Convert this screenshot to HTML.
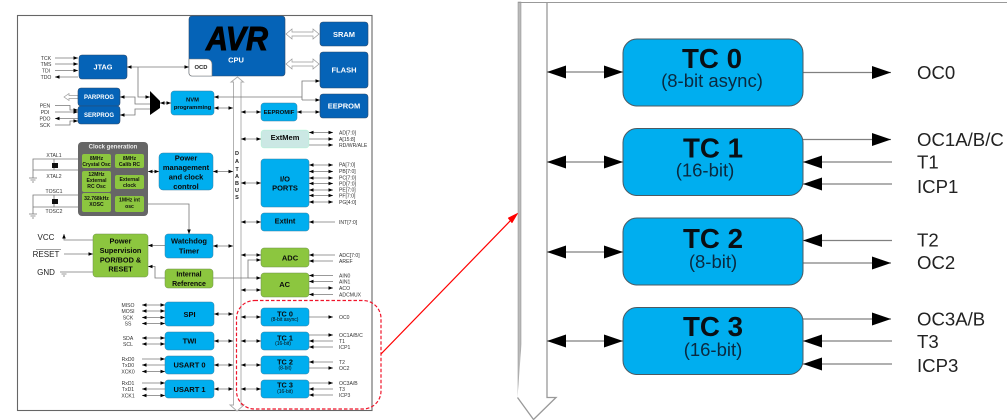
<!DOCTYPE html>
<html><head><meta charset="utf-8"><style>
html,body{margin:0;padding:0;background:#fff;width:1007px;height:420px;overflow:hidden}
svg{display:block;font-family:"Liberation Sans",sans-serif}
.l{filter:blur(.35px)}
.r{filter:blur(.3px)}
.w{stroke:#777;stroke-width:.8;fill:none}
.s{marker-end:url(#a)}
.d{marker-start:url(#a);marker-end:url(#a)}
.b{marker-start:url(#a)}
.lb{font-size:5.100px;fill:#333}
.m{text-anchor:middle}
.t{font-weight:bold;text-anchor:middle}
.big{stroke:#808080;stroke-width:1.3;fill:none}
</style></head><body>
<svg width="1007" height="420" viewBox="0 0 1007 420" xmlns="http://www.w3.org/2000/svg">
<defs>
<marker id="a" viewBox="0 0 4.500 3.600" markerUnits="userSpaceOnUse" markerWidth="4.500" markerHeight="3.600" refX="4.500" refY="1.800" orient="auto-start-reverse"><path d="M0 0L4.500 1.800L0 3.600z" fill="#000"/></marker>
<marker id="A" viewBox="0 0 19 13" markerUnits="userSpaceOnUse" markerWidth="19" markerHeight="13" refX="19" refY="6.500" orient="auto-start-reverse"><path d="M0 0L19 6.500L0 13z" fill="#000"/></marker>
</defs>
<g class="l">
<rect x="17.500" y="15.500" width="354.500" height="395" fill="#fff" stroke="#666" stroke-width="1.100"/>

<!-- data bus -->
<path d="M233.500 82H231L237.500 77L243.500 82H241V405H244L237 411L230 405H233.500Z" fill="#fff" stroke="#aaa" stroke-width=".9"/>
<g font-size="5.500" font-weight="bold" fill="#222" text-anchor="middle">
<text x="237" y="155">D</text><text x="237" y="163">A</text><text x="237" y="171">T</text><text x="237" y="178">A</text><text x="237" y="185">B</text><text x="237" y="192">U</text><text x="237" y="199">S</text></g>

<!-- hollow arrows -->
<g fill="#fff" stroke="#999" stroke-width=".7">
<path d="M286 34L292 29V32H313V29L319 34L313 39V36H292V39Z"/>
<path d="M286 64L292 59V62H313V59L319 64L313 69V66H292V69Z"/>
<path d="M64 97L69 93.500V95.500H78V98.500H69V100.500Z"/>
</g>

<!-- connectors -->
<g class="w">
<path class="d" d="M127 67H189"/>
<path class="s" d="M138 67V97H150"/>
<path class="b" d="M120 97H135V104H150"/>
<path class="b" d="M120 115H135V109H150"/>
<path class="d" d="M160 103H171"/>
<path class="b" d="M214 97H302"/>
<path class="s" d="M302 100V81H320"/>
<path class="s" d="M302 100H320"/>
<path class="d" d="M214 108H233"/>
<path class="d" d="M241 112H261"/>
<path class="d" d="M297 112H320"/>
<path class="d" d="M241 139H261"/>
<path class="d" d="M241 183H261"/>
<path class="d" d="M213 171.500H233"/>
<path class="d" d="M148 171.500H159"/>
<path class="d" d="M213 246H233"/>
<path class="d" d="M241 222H261"/>
<path class="d" d="M241 255H261"/>
<path class="s" d="M213 278H248V260H261"/>
<path class="s" d="M248 278H261"/>
<path class="d" d="M241 290H261"/>
<path class="s" d="M148 204H189V234"/>
<path class="s" d="M165 245.500H148"/>
<path class="s" d="M165 278H155V266.500H148"/>
<path class="s" d="M93 240H64V234"/>
<path class="s" d="M64 254H93"/>
<path d="M64 272H93M60 272H68M61.500 274H66.500M63 276H65"/>
<!-- clock wires -->
<path d="M82 159H33V178M82 170H33M54 159V163M54 168V170"/>
<path d="M82 195H33V214M82 207H33M54 195V199M54 204V207"/>
<path d="M29 178H37M30.500 180H35.500M32 182H34"/>
<path d="M29 214H37M30.500 216H35.500M32 218H34"/>
<!-- JTAG -->
<path class="s" d="M55 58H78"/><path class="s" d="M55 64H78"/><path class="s" d="M55 70.500H78"/><path class="s" d="M78 77H55"/>
<!-- PROG -->
<path class="s" d="M55 105.500H70V110H78"/><path class="s" d="M55 112H78"/><path class="s" d="M78 118.500H55"/><path class="s" d="M55 125H70V121H78"/>
<!-- ExtMem signals -->
<path class="d" d="M309 132.500H333"/><path class="s" d="M309 139H333"/><path class="s" d="M309 145H333"/>
<!-- IO -->
<path class="d" d="M309 165H333"/><path class="d" d="M309 171.500H333"/><path class="d" d="M309 178H333"/><path class="d" d="M309 183.500H333"/><path class="d" d="M309 190H333"/><path class="d" d="M309 195.500H333"/><path class="d" d="M309 202H333"/>
<path class="s" d="M335 222H309"/>
<path class="s" d="M335 255H309"/><path class="s" d="M333 261H309"/>
<path class="s" d="M333 275.500H309"/><path class="s" d="M333 281.500H309"/><path class="s" d="M309 288H333"/><path class="s" d="M333 294.500H309"/>
<!-- SPI etc left -->
<path class="d" d="M142 305H165"/><path class="d" d="M142 311H165"/><path class="d" d="M142 317.500H165"/><path class="d" d="M142 323.500H165"/>
<path class="d" d="M142 338H165"/><path class="d" d="M142 344H165"/>
<path class="s" d="M142 359H165"/><path class="s" d="M165 365H142"/><path class="d" d="M142 371.500H165"/>
<path class="s" d="M142 383H165"/><path class="s" d="M165 389H142"/><path class="d" d="M142 395.500H165"/>
<!-- bus doubles -->
<path class="d" d="M214 314H233"/><path class="d" d="M214 341H233"/><path class="d" d="M214 365H233"/><path class="d" d="M214 389H233"/>
<path class="d" d="M241 317H261"/><path class="d" d="M241 341H261"/><path class="d" d="M241 365H261"/><path class="d" d="M241 389H261"/>
<!-- TC right -->
<path class="s" d="M309 317H333"/>
<path class="s" d="M309 335H333"/><path class="s" d="M333 341H309"/><path class="s" d="M333 347H309"/>
<path class="s" d="M333 362H309"/><path class="s" d="M309 368H333"/>
<path class="s" d="M309 383H333"/><path class="s" d="M333 389H309"/><path class="s" d="M333 395H309"/>
</g>

<!-- caps and mux -->
<rect x="52" y="163" width="6" height="5" fill="#111"/><rect x="52" y="199" width="6" height="5" fill="#111"/>
<path d="M150 91L160 101V108L150 115Z" fill="#000"/>

<!-- CPU -->
<g stroke="#2a4a6e" stroke-width=".6">
<rect x="189" y="16" width="96" height="60" rx="3" fill="#0563b7"/>
<rect x="79" y="55" width="48" height="24" rx="3" fill="#0563b7"/>
<rect x="78" y="88" width="42" height="18" rx="3" fill="#0563b7"/>
<rect x="78" y="106" width="42" height="18" rx="3" fill="#0563b7"/>
<rect x="320" y="22" width="48" height="24" rx="3" fill="#0563b7"/>
<rect x="320" y="52" width="48" height="36" rx="3" fill="#0563b7"/>
<rect x="320" y="94" width="48" height="24" rx="3" fill="#0563b7"/>
</g>
<path d="M189 59H207a5 5 0 0 1 5 5V76H192a3 3 0 0 1-3-3Z" fill="#fff" stroke="#777" stroke-width=".6"/>
<text x="206" y="50" font-size="33" font-weight="bold" font-style="italic" textLength="62" lengthAdjust="spacingAndGlyphs" fill="#000" stroke="#000" stroke-width=".9">AVR</text>
<text x="236" y="62.500" class="t" font-size="7.500" fill="#fff">CPU</text>
<text x="201" y="69" class="m" font-size="5.800" font-weight="bold" fill="#222">OCD</text>
<g fill="#fff">
<text x="103" y="69.500" class="t" font-size="7.300">JTAG</text>
<text x="99" y="99" class="t" font-size="6">PARPROG</text>
<text x="99" y="117" class="t" font-size="6">SERPROG</text>
<text x="344" y="37" class="t" font-size="7.500">SRAM</text>
<text x="344" y="72.500" class="t" font-size="7.500">FLASH</text>
<text x="344" y="108.500" class="t" font-size="7.500">EEPROM</text>
</g>

<!-- light blue boxes -->
<g stroke="#3b7ea0" stroke-width=".5" fill="#00aeef">
<rect x="171" y="91" width="43" height="24" rx="3"/>
<rect x="261" y="103" width="36" height="18" rx="3"/>
<rect x="261" y="159" width="48" height="48" rx="3"/>
<rect x="261" y="213" width="48" height="18" rx="3"/>
<rect x="159" y="153" width="54" height="37" rx="4"/>
<rect x="165" y="234" width="48" height="24" rx="3"/>
<rect x="165" y="302" width="49" height="24" rx="3"/>
<rect x="165" y="332" width="49" height="18" rx="3"/>
<rect x="165" y="356" width="49" height="18" rx="3"/>
<rect x="165" y="380" width="49" height="18" rx="3"/>
<rect x="261" y="308" width="48" height="18" rx="3"/>
<rect x="261" y="332" width="48" height="18" rx="3"/>
<rect x="261" y="356" width="48" height="18" rx="3"/>
<rect x="261" y="380" width="48" height="18" rx="3"/>
</g>
<rect x="261" y="130" width="48" height="18" rx="3" fill="#cbe8e4" stroke="#8fb" stroke-opacity=".5" stroke-width=".5"/>

<!-- green boxes -->
<g fill="#8cc63f" stroke="#6f8f4a" stroke-width=".5">
<rect x="93" y="234" width="55" height="43" rx="3"/>
<rect x="165" y="269" width="48" height="19" rx="3"/>
<rect x="261" y="248" width="48" height="19" rx="3"/>
<rect x="261" y="273" width="48" height="24" rx="3"/>
</g>

<!-- clock gen -->
<rect x="78" y="142" width="70" height="74" rx="4" fill="#666"/>
<g fill="#8cc63f">
<rect x="82" y="154" width="29" height="14" rx="2"/>
<rect x="115" y="154" width="29" height="14" rx="2"/>
<rect x="82" y="171" width="29" height="21" rx="2"/>
<rect x="115" y="175" width="29" height="14" rx="2"/>
<rect x="82" y="193" width="29" height="19" rx="2"/>
<rect x="115" y="196" width="29" height="16" rx="2"/>
</g>
<text x="113" y="148.500" class="t" font-size="6" fill="#eee">Clock generation</text>
<g font-size="5.100" font-weight="bold" fill="#111" text-anchor="middle">
<text x="96.500" y="160">8MHz</text><text x="96.500" y="166">Crystal Osc</text>
<text x="129.500" y="160">8MHz</text><text x="129.500" y="166">Calib RC</text>
<text x="96.500" y="176">12MHz</text><text x="96.500" y="182">External</text><text x="96.500" y="188">RC Osc</text>
<text x="129.500" y="181">External</text><text x="129.500" y="187">clock</text>
<text x="96.500" y="200">32.768kHz</text><text x="96.500" y="206">XOSC</text>
<text x="129.500" y="201.500">1MHz int</text><text x="129.500" y="208">osc</text>
</g>

<!-- box labels -->
<g fill="#0a0a0a" font-weight="bold" text-anchor="middle">
<g font-size="5.800"><text x="192.500" y="101.500">NVM</text><text x="192.500" y="109">programming</text></g>
<text x="279" y="114" font-size="5.900">EEPROMIF</text>
<text x="285" y="140" font-size="7.500">ExtMem</text>
<text x="285" y="181.400" font-size="7.500">I/O</text><text x="285" y="190.400" font-size="7.500">PORTS</text>
<text x="285" y="223.700" font-size="7.500">ExtInt</text>
<text x="290" y="260.300" font-size="7.500">ADC</text>
<text x="284.700" y="287" font-size="7.500">AC</text>
<g font-size="7.500"><text x="186" y="160.400">Power</text><text x="186" y="170">management</text><text x="186" y="179.400">and clock</text><text x="186" y="189">control</text></g>
<g font-size="7.500"><text x="189" y="243.700">Watchdog</text><text x="189" y="253.300">Timer</text></g>
<g font-size="7.300"><text x="120.500" y="243.700">Power</text><text x="120.500" y="253">Supervision</text><text x="120.500" y="262.400">POR/BOD &amp;</text><text x="120.500" y="271.700">RESET</text></g>
<g font-size="7"><text x="189" y="276.500">Internal</text><text x="189" y="286">Reference</text></g>
<g font-size="7.500"><text x="189.500" y="317">SPI</text><text x="189.500" y="343.700">TWI</text><text x="189.500" y="367.700">USART 0</text><text x="189.500" y="392">USART 1</text></g>
<g font-size="7.300"><text x="285" y="316.600">TC 0</text><text x="285" y="340.300">TC 1</text><text x="285" y="364.300">TC 2</text><text x="285" y="387.600">TC 3</text></g>
<g font-size="5" font-weight="normal"><text x="284.700" y="321">(8-bit async)</text><text x="283" y="345">(16-bit)</text><text x="285" y="369.500">(8-bit)</text><text x="285" y="392.800">(16-bit)</text></g>
</g>

<!-- signal labels -->
<g class="lb">
<text x="46" y="60" class="m">TCK</text><text x="46" y="66" class="m">TMS</text><text x="46" y="72.500" class="m">TDI</text><text x="46" y="79" class="m">TDO</text>
<text x="45" y="107.500" class="m">PEN</text><text x="45" y="114" class="m">PDI</text><text x="45" y="120.500" class="m">PDO</text><text x="45" y="127" class="m">SCK</text>
<text x="54" y="157" class="m">XTAL1</text><text x="54" y="178" class="m">XTAL2</text><text x="54" y="193" class="m">TOSC1</text><text x="54" y="213" class="m">TOSC2</text>
<text x="339" y="134.500">AD[7:0]</text><text x="339" y="141">A[15:8]</text><text x="339" y="147">RD/WR/ALE</text>
<text x="339" y="166.500">PA[7:0]</text><text x="339" y="173">PB[7:0]</text><text x="339" y="179.500">PC[7:0]</text><text x="339" y="185.500">PD[7:0]</text><text x="339" y="191.500">PE[7:0]</text><text x="339" y="197.500">PF[7:0]</text><text x="339" y="204">PG[4:0]</text>
<text x="339" y="224">INT[7:0]</text><text x="339" y="257">ADC[7:0]</text><text x="339" y="263">AREF</text>
<text x="339" y="277.500">AIN0</text><text x="339" y="283.500">AIN1</text><text x="339" y="290">ACO</text><text x="339" y="296.500">ADCMUX</text>
<text x="128" y="307" class="m">MISO</text><text x="128" y="313" class="m">MOSI</text><text x="128" y="319.500" class="m">SCK</text><text x="128" y="325.500" class="m">SS</text>
<text x="128" y="340" class="m">SDA</text><text x="128" y="346" class="m">SCL</text>
<text x="128" y="361" class="m">RxD0</text><text x="128" y="367" class="m">TxD0</text><text x="128" y="373.500" class="m">XCK0</text>
<text x="128" y="385" class="m">RxD1</text><text x="128" y="391" class="m">TxD1</text><text x="128" y="397.500" class="m">XCK1</text>
<text x="339" y="319">OC0</text><text x="339" y="337">OC1A/B/C</text><text x="339" y="343">T1</text><text x="339" y="349">ICP1</text>
<text x="339" y="364">T2</text><text x="339" y="370">OC2</text><text x="339" y="385">OC3A/B</text><text x="339" y="391">T3</text><text x="339" y="397">ICP3</text>
</g>
<g font-size="8" fill="#222" text-anchor="middle">
<text x="46" y="240">VCC</text><text x="46" y="257">RESET</text><text x="46" y="275">GND</text>
</g>
<path d="M36 249.500H61" stroke="#444" stroke-width=".6"/>
</g>

<!-- red -->
<rect x="236.500" y="300.500" width="144.500" height="108.500" rx="18" fill="none" stroke="#f0142a" stroke-width="1.200" stroke-dasharray="3.500 2"/>
<path d="M381 354L513 218" stroke="#f00" stroke-width="1.200"/>
<path d="M518 213L512 223L508 218Z" fill="#f00" stroke="#f00" stroke-width=".5"/>

<!-- right panel -->
<g class="r">
<rect x="518" y="2" width="3" height="395" fill="#bbb" stroke="#888" stroke-width=".5"/>
<path d="M518 2.500H1007" stroke="#999" stroke-width="1"/>
<path d="M547 2.500V397.500H556L533.500 419.500L517.500 397.500" fill="#fff" stroke="#999" stroke-width="1.300"/>
<g class="big">
<path d="M547 72H623" marker-start="url(#A)" marker-end="url(#A)"/>
<path d="M547 162H623" marker-start="url(#A)" marker-end="url(#A)"/>
<path d="M547 252H623" marker-start="url(#A)" marker-end="url(#A)"/>
<path d="M547 341H623" marker-start="url(#A)" marker-end="url(#A)"/>
<path d="M803 72.500H891" marker-end="url(#A)"/>
<path d="M803 139.500H891" marker-end="url(#A)"/>
<path d="M892 162H803" marker-end="url(#A)"/>
<path d="M892 184H803" marker-end="url(#A)"/>
<path d="M892 240.500H803" marker-end="url(#A)"/>
<path d="M803 263H891" marker-end="url(#A)"/>
<path d="M803 319H891" marker-end="url(#A)"/>
<path d="M892 341H803" marker-end="url(#A)"/>
<path d="M892 364H803" marker-end="url(#A)"/>
</g>
<g fill="#00aeef" stroke="#4d5a62" stroke-width="1">
<rect x="623" y="39" width="180" height="67" rx="14"/>
<rect x="623" y="128.500" width="180" height="67" rx="14"/>
<rect x="623" y="218" width="180" height="67" rx="14"/>
<rect x="623" y="307.500" width="180" height="67" rx="14"/>
</g>
<g fill="#0a0f14" text-anchor="middle">
<g font-size="27.700" font-weight="bold">
<text x="712" y="68">TC 0</text><text x="713" y="157.500">TC 1</text><text x="713" y="248">TC 2</text><text x="713" y="336">TC 3</text></g>
<g font-size="18.500" fill="#0a2a40">
<text x="712" y="87">(8-bit async)</text><text x="705" y="176.500">(16-bit)</text><text x="713" y="268">(8-bit)</text><text x="713" y="356">(16-bit)</text></g>
</g>
<g font-size="18.600" fill="#222">
<text x="917" y="79">OC0</text><text x="917" y="146">OC1A/B/C</text><text x="917" y="168.500">T1</text><text x="917" y="193">ICP1</text>
<text x="917" y="246.500">T2</text><text x="917" y="269">OC2</text><text x="917" y="325.500">OC3A/B</text><text x="917" y="348">T3</text><text x="917" y="372">ICP3</text>
</g>
</g>
</svg>
</body></html>
